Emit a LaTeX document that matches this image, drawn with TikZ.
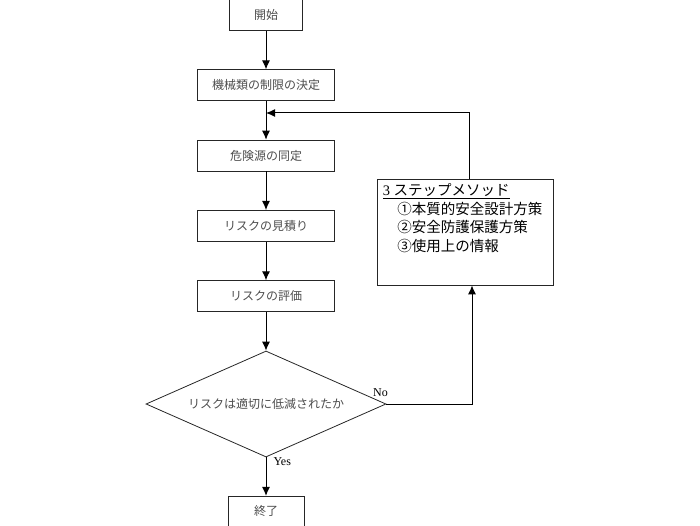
\documentclass[tikz,border=0pt]{standalone}
\usepackage{fontspec}
\setmainfont{Liberation Serif}
\newfontfamily\jp{Noto Sans CJK JP}
\usetikzlibrary{shapes.geometric}
\usetikzlibrary{arrows.meta}
\usetikzlibrary{positioning}

\begin{document}
\begin{tikzpicture}[x=1pt,y=-1pt,node distance=38.5pt,
    box/.style={draw=black!85,line width=0.8pt,minimum width=137pt,minimum height=31pt,inner sep=0pt,
        font=\jp\fontsize{12pt}{14pt}\selectfont,text=black!70},
    decision/.style={diamond,draw=black!85,line width=0.8pt,aspect=2.26,minimum width=240pt,
        minimum height=106pt,inner sep=0pt,font=\jp\fontsize{12pt}{14pt}\selectfont,text=black!70},
    arr/.style={-{Latex[length=9pt,width=8pt]},line width=1pt}]
    \useasboundingbox (0,0) rectangle (700,526);
    \node[box,minimum width=73pt] (start) at (266,15) {開始};
    \node[box,below=of start] (limits) {機械類の制限の決定};
    \node[box,below=of limits] (hazard) {危険源の同定};
    \node[box,below=of hazard] (estimate) {リスクの見積り};
    \node[box,below=of estimate] (evaluate) {リスクの評価};
    \node[decision,below=of evaluate] (decide) {リスクは適切に低減されたか};
    \node[box,minimum width=76pt,minimum height=30pt,below=of decide] (finish) {終了};
    \node[draw=black!85,line width=0.8pt,minimum width=176pt,minimum height=106pt,inner sep=0pt] (method) at (465,232) {};
    \node[anchor=north west,align=left,inner sep=0pt,font=\fontsize{14.5pt}{18.5pt}\selectfont]
        (steps) at ([xshift=6pt,yshift=-5pt]method.north west)
        {\underline{3 {\jp ステップメソッド}}\\
         \quad{\jp ①本質的安全設計方策}\\
         \quad{\jp ②安全防護保護方策}\\
         \quad{\jp ③使用上の情報}};
    \coordinate (merge) at (266,113);

    \draw[arr] (start) -- (limits);
    \draw[arr] (limits) -- (hazard);
    \draw[arr] ([xshift=4pt]method.north) |- (merge);
    \draw[arr] (hazard) -- (estimate);
    \draw[arr] (estimate) -- (evaluate);
    \draw[arr] (evaluate) -- (decide);
    \draw[arr] (decide.east) node[anchor=south east,inner sep=0pt,xshift=2pt,yshift=7pt,font=\fontsize{12pt}{14pt}\selectfont] {No}
        -| ([xshift=7pt]method.south);
    \draw[arr] (decide) -- node[pos=0.12,anchor=west,xshift=7pt,inner sep=0pt,font=\fontsize{12pt}{14pt}\selectfont] {Yes} (finish);
\end{tikzpicture}
\end{document}
